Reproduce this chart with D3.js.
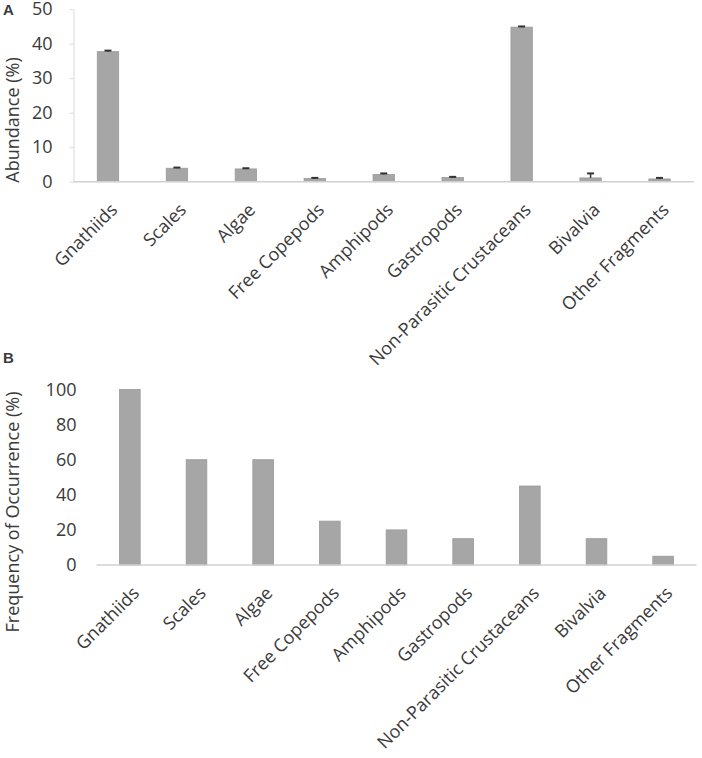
<!DOCTYPE html>
<html>
<head>
<meta charset="utf-8">
<script src="https://cdn.jsdelivr.net/npm/d3@7"></script>
<style>
  body { margin: 0; background: #fff; }
  text { font-family: "Open Sans", sans-serif; fill: #3a3a3a; }
</style>
</head>
<body>
<script>
// categories shared by both panels
var categories = ["Gnathiids", "Scales", "Algae", "Free Copepods", "Amphipods",
                  "Gastropods", "Non-Parasitic Crustaceans", "Bivalvia", "Other Fragments"];

// panel A: mean abundance (%) and standard error
var abundance = [37.7, 3.9, 3.7, 0.9, 2.1, 1.2, 44.8, 1.1, 0.8];
var abundanceErr = [0.3, 0.2, 0.2, 0.2, 0.3, 0.2, 0.2, 1.3, 0.3];
var abundanceTicks = [0, 10, 20, 30, 40, 50];

// panel B: frequency of occurrence (%)
var frequency = [100, 60, 60, 25, 20, 15, 45, 15, 5];
var frequencyTicks = [0, 20, 40, 60, 80, 100];

var width = 702, height = 758;
var fontSize = "18px";

var svg = d3.select("body")
    .append("svg")
    .attr("width", width)
    .attr("height", height);

//draw one bar panel
function drawPanel(opts){
    var x = d3.scaleBand()
        .domain(categories)
        .range(opts.xRange)
        .paddingInner(0.69)
        .paddingOuter(0.345);

    var y = d3.scaleLinear()
        .domain([0, opts.yMax])
        .range(opts.yRange);

    var g = svg.append("g");

    //y axis
    var yAxis = g.append("g")
        .attr("transform", "translate(" + opts.xRange[0] + ",0)")
        .call(d3.axisLeft(y)
            .tickValues(opts.ticks)
            .tickSizeInner(opts.showYLine ? 4 : 0)
            .tickSizeOuter(0)
            .tickPadding(opts.tickPad));
    yAxis.selectAll("line").attr("stroke", "#d9d9d9");
    yAxis.select(".domain").attr("stroke", opts.showYLine ? "#d9d9d9" : "none");
    yAxis.selectAll("text")
        .style("font-family", "'Open Sans', sans-serif")
        .style("font-size", fontSize)
        .attr("fill", "#3a3a3a");

    //bars
    g.selectAll(".bar")
        .data(opts.values)
        .enter()
        .append("rect")
        .attr("class", "bar")
        .attr("x", function(d, i){ return x(categories[i]); })
        .attr("width", x.bandwidth())
        .attr("y", function(d){ return y(d); })
        .attr("height", function(d){ return y(0) - y(d); })
        .attr("fill", "#a6a6a6")
        .attr("stroke", "#9a9a9a")
        .attr("stroke-width", 0.8);

    //error bars (upper only)
    if (opts.errors){
        var eb = g.selectAll(".err")
            .data(opts.values)
            .enter()
            .append("g")
            .attr("class", "err")
            .attr("transform", function(d, i){
                return "translate(" + (x(categories[i]) + x.bandwidth() / 2) + ",0)";
            });
        eb.append("line")
            .attr("x1", 0).attr("x2", 0)
            .attr("y1", function(d){ return y(d); })
            .attr("y2", function(d, i){ return y(d + opts.errors[i]); })
            .attr("stroke", "#333").attr("stroke-width", 1.5);
        eb.append("line")
            .attr("x1", -3.5).attr("x2", 3.5)
            .attr("y1", function(d, i){ return y(d + opts.errors[i]); })
            .attr("y2", function(d, i){ return y(d + opts.errors[i]); })
            .attr("stroke", "#333").attr("stroke-width", 2);
    }

    //x axis line
    g.append("line")
        .attr("x1", opts.xRange[0]).attr("x2", opts.xRange[1])
        .attr("y1", y(0)).attr("y2", y(0))
        .attr("stroke", "#d0d0d0")
        .attr("stroke-width", 1.5);

    //rotated category labels
    g.selectAll(".cat")
        .data(categories)
        .enter()
        .append("text")
        .attr("class", "cat")
        .attr("text-anchor", "end")
        .attr("transform", function(d){
            return "translate(" + (x(d) + x.bandwidth() / 2 + 10.5) + "," + (y(0) + 29.3) + ") rotate(-45)";
        })
        .style("font-size", fontSize)
        .text(function(d){ return d; });

    //y title
    svg.append("text")
        .attr("text-anchor", "middle")
        .attr("transform", "translate(19," + opts.titleY + ") rotate(-90)")
        .style("font-size", fontSize)
        .text(opts.title);

    //panel letter
    svg.append("text")
        .attr("x", 3)
        .attr("y", opts.letterY)
        .style("font-family", "'Liberation Sans', Arial, sans-serif")
        .style("font-weight", "bold")
        .style("font-size", "15px")
        .attr("fill", "#000")
        .text(opts.letter);
}

drawPanel({
    values: abundance,
    errors: abundanceErr,
    ticks: abundanceTicks,
    yMax: 50,
    xRange: [73.5, 694],
    yRange: [181.7, 9.2],
    tickPad: 17,
    showYLine: true,
    title: "Abundance (%)",
    titleY: 120,
    letter: "A",
    letterY: 15
});

drawPanel({
    values: frequency,
    errors: null,
    ticks: frequencyTicks,
    yMax: 100,
    xRange: [96.5, 696.5],
    yRange: [565, 389.5],
    tickPad: 20,
    showYLine: false,
    title: "Frequency of Occurrence (%)",
    titleY: 512,
    letter: "B",
    letterY: 363
});
</script>
</body>
</html>
